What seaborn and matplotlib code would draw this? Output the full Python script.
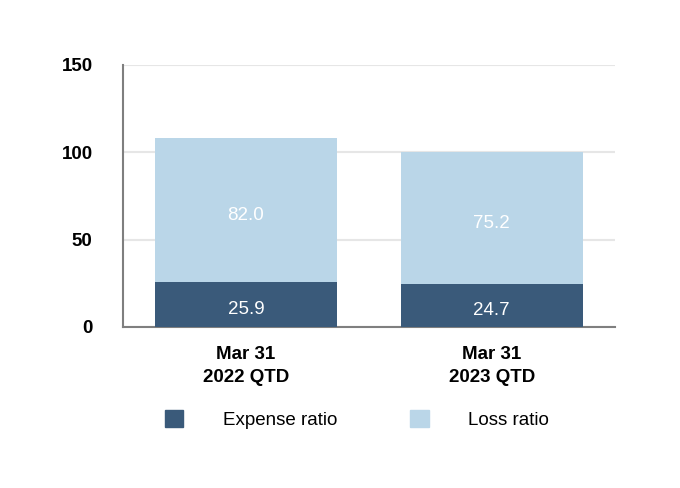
import pandas as pd
import matplotlib.pyplot as plt
import seaborn as sns
from matplotlib.patches import Patch

periods = ["Mar 31\n2022 QTD", "Mar 31\n2023 QTD"]
expense_ratio = [25.9, 24.7]
loss_ratio = [82.0, 75.2]
yticks = [0, 50, 100, 150]

DARK = "#3a5a7a"
LIGHT = "#bad6e8"


def main():
    sns.set_style("white")
    plt.rcParams["font.family"] = ["Liberation Sans", "DejaVu Sans"]
    plt.rcParams["text.color"] = "black"
    plt.rcParams["xtick.color"] = "black"
    plt.rcParams["ytick.color"] = "black"

    df = pd.DataFrame({"period": periods, "expense": expense_ratio, "loss": loss_ratio})
    df["total"] = df["expense"] + df["loss"]

    fig = plt.figure(figsize=(6.8, 4.88), dpi=100)
    ax = fig.add_axes([0.181, 0.330, 0.723, 0.537])

    # stacked bars: total in light colour, expense drawn over it
    sns.barplot(data=df, x="period", y="total", color=LIGHT, width=0.74,
                saturation=1, linewidth=0, ax=ax, zorder=2)
    sns.barplot(data=df, x="period", y="expense", color=DARK, width=0.74,
                saturation=1, linewidth=0, ax=ax, zorder=3)

    for i, row in df.iterrows():
        for val, ypos in [(row["expense"], row["expense"] / 2),
                          (row["loss"], row["expense"] + row["loss"] / 2)]:
            ax.annotate(f"{val:.1f}", (i, ypos), xytext=(0, -4), textcoords="offset points",
                        ha="center", va="center", color="white", fontsize=13.5, zorder=4)

    ax.set_xlim(-0.5, 1.5)
    ax.set_ylim(0, 150)
    ax.set_yticks(yticks)
    ax.yaxis.grid(True, color="#e6e6e6", linewidth=1.5, zorder=0)
    ax.set_axisbelow(True)
    ax.set_xlabel("")
    ax.set_ylabel("")
    ax.tick_params(axis="y", length=0, pad=22, labelsize=13.5)
    ax.tick_params(axis="x", length=0, pad=14, labelsize=13.5)
    for lab in ax.get_yticklabels():
        lab.set_fontweight("bold")
    for lab in ax.get_xticklabels():
        lab.set_fontweight("bold")
        lab.set_linespacing(1.45)
    sns.despine(ax=ax, top=True, right=True)
    for side in ["left", "bottom"]:
        ax.spines[side].set_color("#7f7f7f")
        ax.spines[side].set_linewidth(1.5)

    handles = [Patch(color=DARK, label="Expense ratio"), Patch(color=LIGHT, label="Loss ratio")]
    fig.legend(handles=handles, loc="center", bbox_to_anchor=(0.525, 0.14), ncol=2,
               frameon=False, fontsize=13.5, handlelength=1.0, handleheight=1.0,
               handletextpad=2.1, columnspacing=3.9)

    fig.savefig("out.png", dpi=100)


if __name__ == "__main__":
    main()
